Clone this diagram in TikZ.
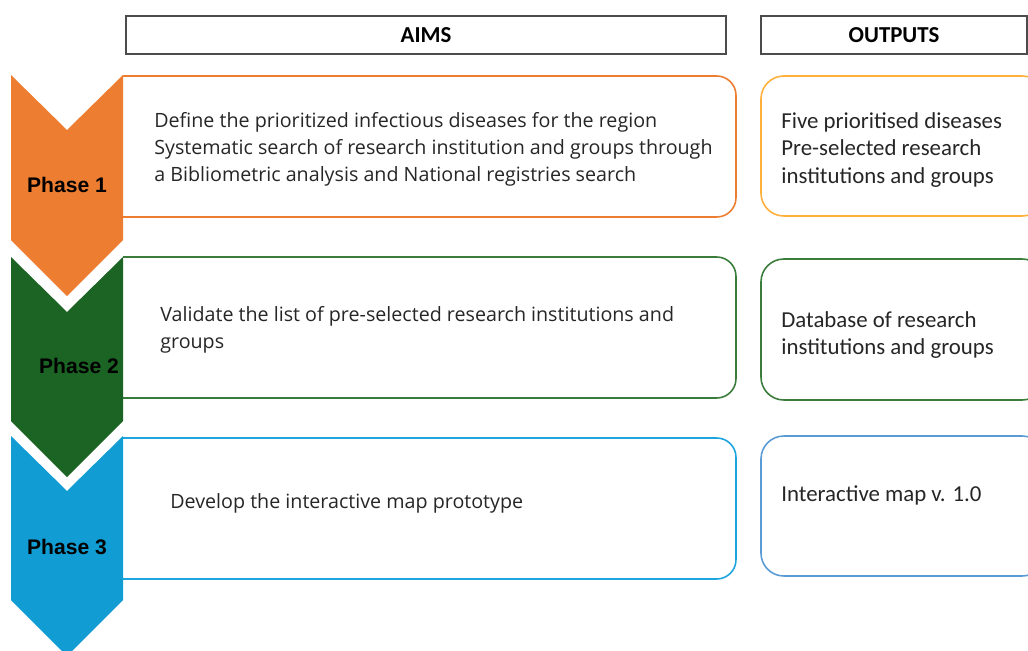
\documentclass[tikz,border=0pt]{standalone}
\usepackage{fontspec}
\setmainfont{Open Sans}
\newfontfamily\calfont{Carlito}
\newfontfamily\phasefont{Liberation Sans}
\usetikzlibrary{positioning}
\definecolor{phaseorange}{RGB}{237,125,49}
\definecolor{outorange}{RGB}{255,176,58}
\definecolor{phasegreen}{RGB}{27,100,35}
\definecolor{boxgreen}{RGB}{58,125,58}
\definecolor{phaseblue}{RGB}{18,156,212}
\definecolor{boxblue}{RGB}{30,165,224}
\definecolor{outblue}{RGB}{91,155,213}
\tikzset{header/.style={rectangle, draw=black!70, line width=1.1pt, font=\calfont\bfseries\fontsize{13}{15}\selectfont}, aim/.style={rounded corners=11pt, line width=0.9pt}, output/.style={rounded corners=13pt, line width=0.9pt}}

\begin{document}
\begin{tikzpicture}[
    x=0.02cm, y=-0.02cm,
    aimtext/.style={anchor=west, align=left, inner sep=0pt, font=\fontsize{11.2}{15.3}\selectfont, text=black!85},
    outtext/.style={anchor=west, align=left, inner sep=0pt, font=\calfont\fontsize{13}{15.4}\selectfont, text=black!85},
    phase/.style={font=\phasefont\bfseries\fontsize{12}{14}\selectfont}
]
\useasboundingbox (0,0) rectangle (1028,650);

% Headers
\node[header, minimum width=600*0.02cm, minimum height=38*0.02cm] (aims) at (426,35) {AIMS};
\node[header, minimum width=266*0.02cm, minimum height=38*0.02cm] (outputs) at (894,35) {OUTPUTS};

% Aim boxes, open on the chevron side
\draw[aim, draw=phaseorange] (123,76) -- (736,76) -- (736,217) -- (123,217);
\draw[aim, draw=boxgreen] (123,257) -- (736,257) -- (736,398) -- (123,398);
\draw[aim, draw=boxblue] (123,438) -- (736,438) -- (736,579) -- (123,579);

% Output boxes
\draw[output, draw=outorange] (761,76) rectangle (1045,216);
\draw[output, draw=boxgreen] (761,259) rectangle (1045,400);
\draw[output, draw=outblue] (761,436) rectangle (1045,576);

% Chevrons
\fill[phaseorange] (11,75) -- (67,130) -- (123,75) -- (123,240) -- (67,296) -- (11,240) -- cycle;
\fill[phasegreen] (11,257) -- (67,312) -- (123,257) -- (123,421) -- (67,477) -- (11,421) -- cycle;
\fill[phaseblue] (11,436) -- (67,491) -- (123,436) -- (123,600) -- (67,656) -- (11,600) -- cycle;

\node[phase] (p1) at (67,185) {Phase 1};
\node[phase] (p2) at (79,366) {Phase 2};
\node[phase] (p3) at (67,547) {Phase 3};

% Aims
\node[aimtext] (aim1) at (154,149) {Define the prioritized infectious diseases for the region\\Systematic search of research institution and groups through\\a Bibliometric analysis and National registries search};
\node[aimtext] (aim2) at (160,330) {Validate the list of pre-selected research institutions and\\groups};
\node[aimtext] (aim3) at (170,503) {Develop the interactive map prototype};

% Outputs
\node[outtext] (out1) at (781,150) {Five prioritised diseases\\Pre-selected research\\institutions and groups};
\node[outtext] (out2) at (781,335) {Database of research\\institutions and groups};
\node[outtext] (out3) at (781,495) {Interactive map v. 1.0};

\end{tikzpicture}
\end{document}
